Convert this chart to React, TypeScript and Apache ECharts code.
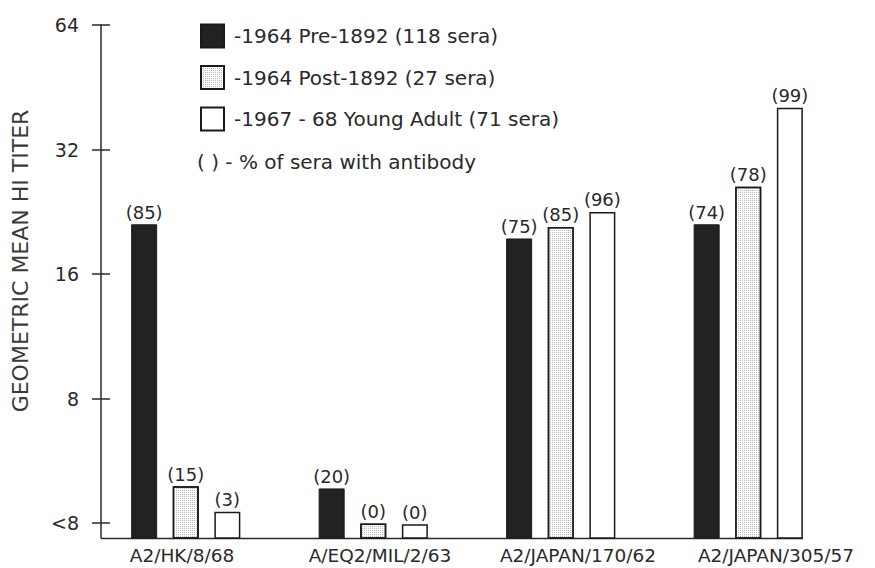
import React, { useEffect, useRef } from "react";
import * as echarts from "echarts";

const categories = ["A2/HK/8/68", "A/EQ2/MIL/2/63", "A2/JAPAN/170/62", "A2/JAPAN/305/57"];
const seriesNames = [
  "-1964 Pre-1892 (118 sera)",
  "-1964 Post-1892 (27 sera)",
  "-1967 - 68 Young Adult (71 sera)",
];
// geometric mean HI titers
const pre1892 = [21.1, 4.85, 19.5, 21.1];
const post1892 = [4.91, 3.99, 20.8, 26.0];
const youngAdult = [4.26, 3.97, 22.6, 40.4];
// % of sera with antibody
const prePct = [85, 20, 75, 74];
const postPct = [15, 0, 85, 78];
const youngPct = [3, 0, 96, 99];
// y axis ticks
const tickValues = [4, 8, 16, 32, 64];
const tickLabels = ["<8", "8", "16", "32", "64"];
const axisMinTiter = 3.68;
const legendNote = "( ) - % of sera with antibody";
const yTitle = "GEOMETRIC MEAN HI TITER";

const FONT = "DejaVu Sans";
const INK = "#2a2a2a";

export default function App() {
  const ref = useRef<HTMLDivElement>(null);
  useEffect(() => {
    document.body.style.margin = "0";
    if (!ref.current) return;
    const chart = echarts.init(ref.current, null, { renderer: "svg" });
    const lg = (v: number) => Math.log2(v);
    const tickPos = tickValues.map(lg);
    const labelFor = (val: number) => {
      const i = tickPos.findIndex((t) => Math.abs(t - val) < 1e-6);
      return i >= 0 ? tickLabels[i] : "";
    };
    const mkLabel = (pct: number[]) => ({
      show: true,
      position: "top" as const,
      distance: 3,
      fontFamily: FONT,
      fontSize: 18,
      color: INK,
      formatter: (p: any) => `(${pct[p.dataIndex]})`,
    });
    const common = {
      type: "bar" as const,
      xAxisIndex: 0,
      yAxisIndex: 0,
      barWidth: 26,
      barGap: "60%",
    };
    chart.setOption({
      animation: false,
      backgroundColor: "#ffffff",
      grid: [
        { left: 92, right: 33, top: 25, bottom: 30 },
        { left: 83, right: -11, top: 25, bottom: 30 },
      ],
      legend: {
        orient: "vertical",
        left: 200,
        top: 23.5,
        padding: 0,
        icon: "rect",
        itemWidth: 23,
        itemHeight: 23,
        itemGap: 16.5,
        selectedMode: false,
        data: seriesNames,
        textStyle: { fontFamily: FONT, fontSize: 20, color: INK, padding: [0, 0, 0, 5] },
      },
      xAxis: [
        {
          type: "category",
          gridIndex: 0,
          data: categories,
          axisLine: { show: false },
          axisTick: { show: false },
          axisLabel: { show: false },
        },
        {
          type: "category",
          gridIndex: 1,
          data: categories,
          axisLine: { show: false },
          axisTick: { show: false },
          axisLabel: {
            interval: 0,
            margin: 8,
            fontFamily: FONT,
            fontSize: 18.5,
            color: INK,
          },
        },
      ],
      yAxis: [
        {
          type: "value",
          gridIndex: 0,
          position: "left",
          offset: -9,
          min: lg(axisMinTiter),
          max: lg(64),
          splitLine: { show: false },
          axisLine: { show: true, lineStyle: { color: INK, width: 1.5 } },
          axisTick: { show: true, length: 9, customValues: tickPos, lineStyle: { color: INK, width: 1.5 } },
          axisLabel: {
            customValues: tickPos,
            formatter: labelFor,
            margin: 22,
            fontFamily: FONT,
            fontSize: 19,
            color: INK,
          },
        },
        {
          type: "value",
          gridIndex: 0,
          position: "left",
          offset: -9,
          min: lg(axisMinTiter),
          max: lg(64),
          splitLine: { show: false },
          axisLine: { show: false },
          axisTick: { show: true, inside: true, length: 9, customValues: tickPos, lineStyle: { color: INK, width: 1.5 } },
          axisLabel: { show: false },
        },
        { type: "value", gridIndex: 1, show: false },
      ],
      graphic: [
        {
          type: "line",
          shape: { x1: 101, y1: 538.5, x2: 803, y2: 538.5 },
          style: { stroke: INK, lineWidth: 1.5 },
          silent: true,
        },
        {
          type: "text",
          x: 20,
          y: 261,
          rotation: Math.PI / 2,
          style: {
            text: yTitle,
            fontFamily: FONT,
            fontSize: 22,
            fill: "#3a3a3a",
            align: "center",
            verticalAlign: "middle",
          },
        },
        {
          type: "text",
          x: 197,
          y: 161.5,
          style: {
            text: legendNote,
            fontFamily: FONT,
            fontSize: 20,
            fill: INK,
            verticalAlign: "middle",
          },
        },
      ],
      series: [
        {
          ...common,
          name: seriesNames[0],
          data: pre1892.map(lg),
          itemStyle: { color: "#222222", borderColor: "#1a1a1a", borderWidth: 1 },
          label: mkLabel(prePct),
        },
        {
          ...common,
          name: seriesNames[1],
          data: post1892.map(lg),
          itemStyle: {
            color: "#ffffff",
            borderColor: "#1a1a1a",
            borderWidth: 1.5,
            decal: {
              symbol: "rect",
              symbolSize: 1,
              dashArrayX: [1, 1],
              dashArrayY: [1, 1],
              color: "#b4b4b4",
            },
          },
          label: mkLabel(postPct),
        },
        {
          ...common,
          name: seriesNames[2],
          data: youngAdult.map(lg),
          itemStyle: { color: "#ffffff", borderColor: "#1a1a1a", borderWidth: 1.5 },
          label: mkLabel(youngPct),
        },
      ],
    });
    return () => chart.dispose();
  }, []);
  return (
    <div
      ref={ref}
      style={{ position: "fixed", left: 0, top: 0, width: 875, height: 568 }}
    />
  );
}
